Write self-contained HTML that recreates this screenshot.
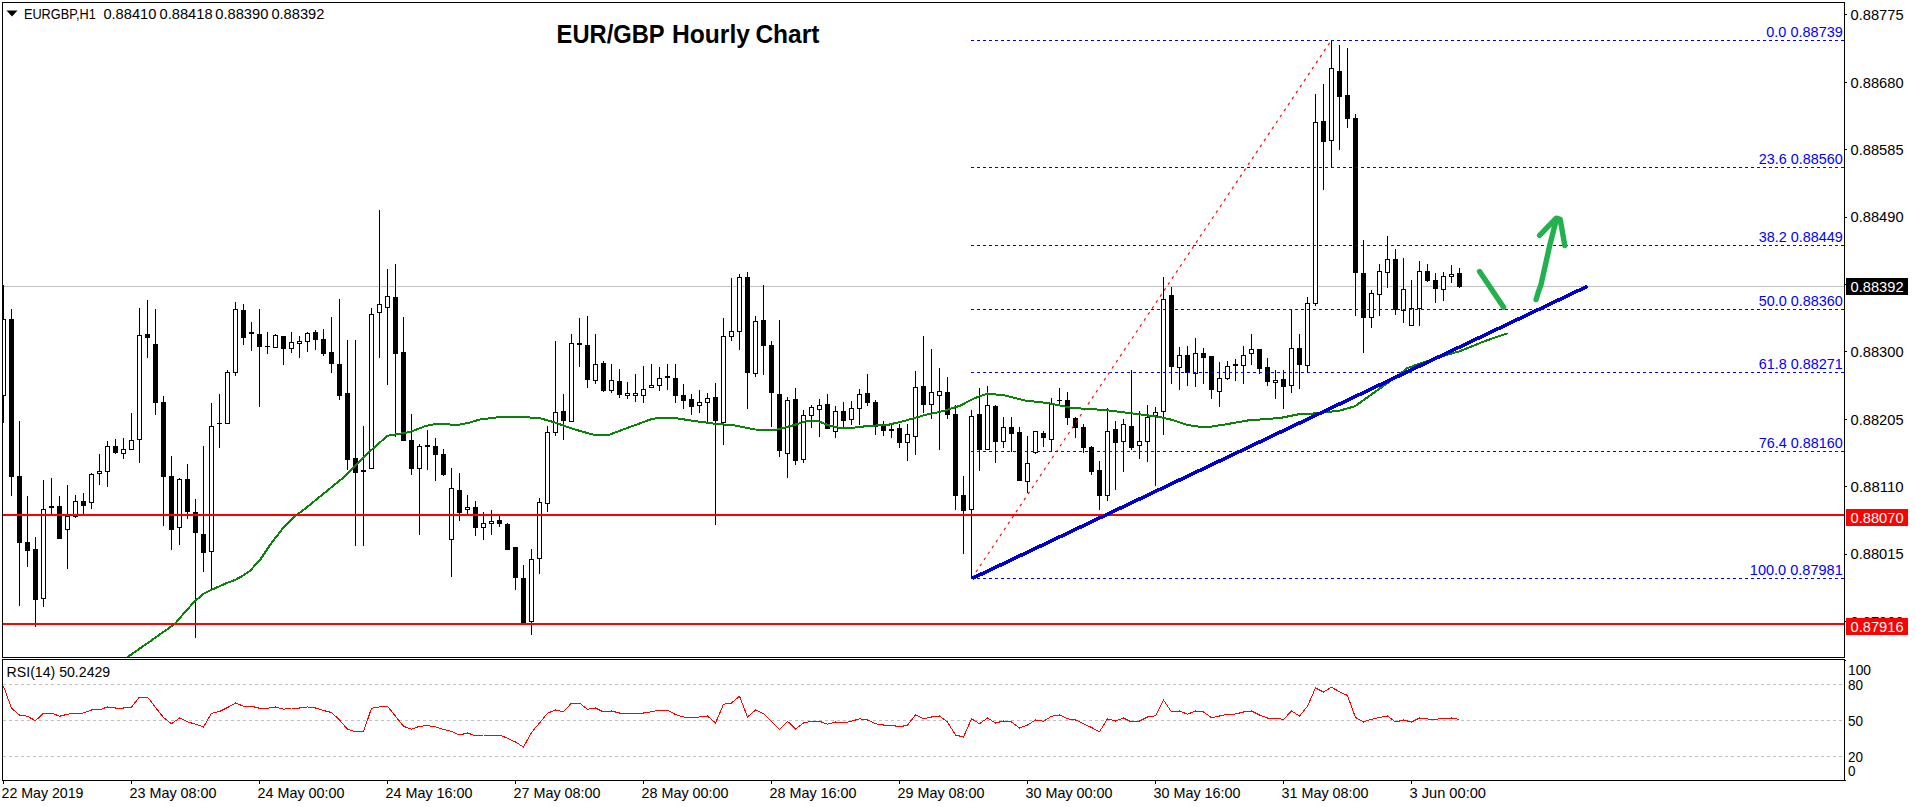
<!DOCTYPE html>
<html><head><meta charset="utf-8"><title>EUR/GBP Hourly Chart</title>
<style>
html,body{margin:0;padding:0;background:#fff;}
body{width:1916px;height:807px;overflow:hidden;}
svg{display:block;}
text{font-family:"Liberation Sans",sans-serif;}
.t{font-size:14.2px;fill:#000;}
.b{font-size:14.2px;fill:#0000ff;}
.w{font-size:14.2px;fill:#fff;}
</style></head><body>
<svg width="1916" height="807" viewBox="0 0 1916 807">
<rect width="1916" height="807" fill="#fff"/>
<g shape-rendering="crispEdges">
<rect x="3" y="286" width="1841" height="1" fill="#c0c0c0"/>
<line x1="3" y1="684.5" x2="1844" y2="684.5" stroke="#c0c0c0" stroke-width="1" stroke-dasharray="3,3"/>
<line x1="3" y1="720.5" x2="1844" y2="720.5" stroke="#c0c0c0" stroke-width="1" stroke-dasharray="3,3"/>
<line x1="3" y1="756.5" x2="1844" y2="756.5" stroke="#c0c0c0" stroke-width="1" stroke-dasharray="3,3"/>
</g>
<g shape-rendering="crispEdges" fill="#000">
<rect x="3" y="285" width="1" height="138"/><rect x="3" y="319" width="3" height="77"/><rect x="3" y="320" width="2" height="75" fill="#fff"/>
<rect x="11" y="309" width="1" height="187"/><rect x="9" y="319" width="5" height="158"/>
<rect x="19" y="421" width="1" height="185"/><rect x="17" y="476" width="5" height="67"/>
<rect x="27" y="496" width="1" height="71"/><rect x="25" y="542" width="5" height="9"/>
<rect x="35" y="537" width="1" height="90"/><rect x="33" y="549" width="5" height="51"/>
<rect x="43" y="480" width="1" height="127"/><rect x="41" y="509" width="5" height="90"/><rect x="42" y="510" width="3" height="88" fill="#fff"/>
<rect x="51" y="478" width="1" height="36"/><rect x="49" y="506" width="5" height="2"/>
<rect x="59" y="496" width="1" height="43"/><rect x="57" y="506" width="5" height="33"/>
<rect x="67" y="485" width="1" height="84"/><rect x="65" y="516" width="5" height="14"/><rect x="66" y="517" width="3" height="12" fill="#fff"/>
<rect x="75" y="495" width="1" height="23"/><rect x="73" y="501" width="5" height="16"/><rect x="74" y="502" width="3" height="14" fill="#fff"/>
<rect x="83" y="493" width="1" height="22"/><rect x="81" y="501" width="5" height="5"/>
<rect x="91" y="473" width="1" height="36"/><rect x="89" y="474" width="5" height="29"/><rect x="90" y="475" width="3" height="27" fill="#fff"/>
<rect x="99" y="454" width="1" height="31"/><rect x="97" y="471" width="5" height="3"/><rect x="98" y="472" width="3" height="1" fill="#fff"/>
<rect x="107" y="441" width="1" height="46"/><rect x="105" y="446" width="5" height="26"/><rect x="106" y="447" width="3" height="24" fill="#fff"/>
<rect x="115" y="439" width="1" height="15"/><rect x="113" y="446" width="5" height="7"/>
<rect x="123" y="438" width="1" height="21"/><rect x="121" y="449" width="5" height="5"/><rect x="122" y="450" width="3" height="3" fill="#fff"/>
<rect x="131" y="413" width="1" height="37"/><rect x="129" y="440" width="5" height="10"/><rect x="130" y="441" width="3" height="8" fill="#fff"/>
<rect x="139" y="308" width="1" height="155"/><rect x="137" y="335" width="5" height="105"/><rect x="138" y="336" width="3" height="103" fill="#fff"/>
<rect x="147" y="300" width="1" height="58"/><rect x="145" y="334" width="5" height="4"/>
<rect x="155" y="309" width="1" height="106"/><rect x="153" y="344" width="5" height="59"/>
<rect x="163" y="396" width="1" height="130"/><rect x="161" y="402" width="5" height="75"/>
<rect x="171" y="456" width="1" height="94"/><rect x="169" y="476" width="5" height="54"/>
<rect x="179" y="478" width="1" height="67"/><rect x="177" y="479" width="5" height="49"/><rect x="178" y="480" width="3" height="47" fill="#fff"/>
<rect x="187" y="464" width="1" height="55"/><rect x="185" y="479" width="5" height="33"/>
<rect x="195" y="499" width="1" height="139"/><rect x="193" y="512" width="5" height="21"/>
<rect x="203" y="446" width="1" height="126"/><rect x="201" y="534" width="5" height="19"/>
<rect x="211" y="403" width="1" height="187"/><rect x="209" y="426" width="5" height="126"/><rect x="210" y="427" width="3" height="124" fill="#fff"/>
<rect x="219" y="394" width="1" height="54"/><rect x="217" y="423" width="5" height="1"/>
<rect x="227" y="370" width="1" height="54"/><rect x="225" y="372" width="5" height="52"/><rect x="226" y="373" width="3" height="50" fill="#fff"/>
<rect x="235" y="302" width="1" height="74"/><rect x="233" y="309" width="5" height="64"/><rect x="234" y="310" width="3" height="62" fill="#fff"/>
<rect x="243" y="304" width="1" height="41"/><rect x="241" y="310" width="5" height="28"/>
<rect x="251" y="322" width="1" height="29"/><rect x="249" y="332" width="5" height="2"/>
<rect x="259" y="309" width="1" height="98"/><rect x="257" y="334" width="5" height="13"/>
<rect x="267" y="332" width="1" height="22"/><rect x="265" y="346" width="5" height="1"/>
<rect x="275" y="334" width="1" height="14"/><rect x="273" y="335" width="5" height="13"/><rect x="274" y="336" width="3" height="11" fill="#fff"/>
<rect x="283" y="336" width="1" height="29"/><rect x="281" y="336" width="5" height="13"/>
<rect x="291" y="332" width="1" height="21"/><rect x="289" y="342" width="5" height="7"/><rect x="290" y="343" width="3" height="5" fill="#fff"/>
<rect x="299" y="336" width="1" height="22"/><rect x="297" y="341" width="5" height="3"/><rect x="298" y="342" width="3" height="1" fill="#fff"/>
<rect x="307" y="332" width="1" height="20"/><rect x="305" y="333" width="5" height="9"/><rect x="306" y="334" width="3" height="7" fill="#fff"/>
<rect x="315" y="330" width="1" height="20"/><rect x="313" y="332" width="5" height="8"/>
<rect x="323" y="329" width="1" height="27"/><rect x="321" y="339" width="5" height="15"/>
<rect x="331" y="317" width="1" height="56"/><rect x="329" y="352" width="5" height="12"/>
<rect x="339" y="299" width="1" height="101"/><rect x="337" y="364" width="5" height="32"/>
<rect x="347" y="340" width="1" height="130"/><rect x="345" y="393" width="5" height="67"/>
<rect x="355" y="340" width="1" height="206"/><rect x="353" y="458" width="5" height="15"/>
<rect x="363" y="426" width="1" height="120"/><rect x="361" y="470" width="5" height="2"/>
<rect x="371" y="308" width="1" height="161"/><rect x="369" y="314" width="5" height="155"/><rect x="370" y="315" width="3" height="153" fill="#fff"/>
<rect x="379" y="210" width="1" height="148"/><rect x="377" y="304" width="5" height="9"/><rect x="378" y="305" width="3" height="7" fill="#fff"/>
<rect x="387" y="269" width="1" height="116"/><rect x="385" y="296" width="5" height="12"/><rect x="386" y="297" width="3" height="10" fill="#fff"/>
<rect x="395" y="264" width="1" height="173"/><rect x="393" y="297" width="5" height="57"/>
<rect x="403" y="317" width="1" height="124"/><rect x="401" y="352" width="5" height="89"/>
<rect x="411" y="414" width="1" height="61"/><rect x="409" y="440" width="5" height="29"/>
<rect x="419" y="444" width="1" height="91"/><rect x="417" y="446" width="5" height="23"/><rect x="418" y="447" width="3" height="21" fill="#fff"/>
<rect x="427" y="430" width="1" height="40"/><rect x="425" y="445" width="5" height="2"/>
<rect x="435" y="438" width="1" height="43"/><rect x="433" y="446" width="5" height="9"/>
<rect x="443" y="449" width="1" height="27"/><rect x="441" y="454" width="5" height="21"/>
<rect x="451" y="468" width="1" height="109"/><rect x="449" y="488" width="5" height="52"/><rect x="450" y="489" width="3" height="50" fill="#fff"/>
<rect x="459" y="473" width="1" height="48"/><rect x="457" y="490" width="5" height="23"/>
<rect x="467" y="495" width="1" height="19"/><rect x="465" y="507" width="5" height="3"/><rect x="466" y="508" width="3" height="1" fill="#fff"/>
<rect x="475" y="501" width="1" height="35"/><rect x="473" y="507" width="5" height="21"/>
<rect x="483" y="512" width="1" height="28"/><rect x="481" y="523" width="5" height="5"/><rect x="482" y="524" width="3" height="3" fill="#fff"/>
<rect x="491" y="510" width="1" height="25"/><rect x="489" y="521" width="5" height="3"/><rect x="490" y="522" width="3" height="1" fill="#fff"/>
<rect x="499" y="516" width="1" height="11"/><rect x="497" y="520" width="5" height="4"/>
<rect x="507" y="523" width="1" height="27"/><rect x="505" y="524" width="5" height="26"/>
<rect x="515" y="547" width="1" height="43"/><rect x="513" y="547" width="5" height="31"/>
<rect x="523" y="565" width="1" height="59"/><rect x="521" y="578" width="5" height="46"/>
<rect x="531" y="549" width="1" height="86"/><rect x="529" y="559" width="5" height="63"/><rect x="530" y="560" width="3" height="61" fill="#fff"/>
<rect x="539" y="498" width="1" height="76"/><rect x="537" y="502" width="5" height="57"/><rect x="538" y="503" width="3" height="55" fill="#fff"/>
<rect x="547" y="426" width="1" height="86"/><rect x="545" y="432" width="5" height="72"/><rect x="546" y="433" width="3" height="70" fill="#fff"/>
<rect x="555" y="341" width="1" height="95"/><rect x="553" y="412" width="5" height="21"/><rect x="554" y="413" width="3" height="19" fill="#fff"/>
<rect x="563" y="394" width="1" height="46"/><rect x="561" y="411" width="5" height="10"/>
<rect x="571" y="334" width="1" height="88"/><rect x="569" y="343" width="5" height="79"/><rect x="570" y="344" width="3" height="77" fill="#fff"/>
<rect x="579" y="318" width="1" height="49"/><rect x="577" y="343" width="5" height="2"/>
<rect x="587" y="316" width="1" height="72"/><rect x="585" y="345" width="5" height="35"/>
<rect x="595" y="334" width="1" height="50"/><rect x="593" y="364" width="5" height="17"/><rect x="594" y="365" width="3" height="15" fill="#fff"/>
<rect x="603" y="361" width="1" height="31"/><rect x="601" y="363" width="5" height="28"/>
<rect x="611" y="364" width="1" height="29"/><rect x="609" y="380" width="5" height="11"/><rect x="610" y="381" width="3" height="9" fill="#fff"/>
<rect x="619" y="369" width="1" height="29"/><rect x="617" y="381" width="5" height="14"/>
<rect x="627" y="382" width="1" height="17"/><rect x="625" y="393" width="5" height="3"/><rect x="626" y="394" width="3" height="1" fill="#fff"/>
<rect x="635" y="374" width="1" height="28"/><rect x="633" y="393" width="5" height="3"/><rect x="634" y="394" width="3" height="1" fill="#fff"/>
<rect x="643" y="366" width="1" height="37"/><rect x="641" y="389" width="5" height="7"/><rect x="642" y="390" width="3" height="5" fill="#fff"/>
<rect x="651" y="364" width="1" height="24"/><rect x="649" y="385" width="5" height="3"/><rect x="650" y="386" width="3" height="1" fill="#fff"/>
<rect x="659" y="367" width="1" height="24"/><rect x="657" y="378" width="5" height="8"/><rect x="658" y="379" width="3" height="6" fill="#fff"/>
<rect x="667" y="364" width="1" height="26"/><rect x="665" y="376" width="5" height="2"/>
<rect x="675" y="364" width="1" height="39"/><rect x="673" y="378" width="5" height="18"/>
<rect x="683" y="384" width="1" height="25"/><rect x="681" y="395" width="5" height="6"/>
<rect x="691" y="394" width="1" height="21"/><rect x="689" y="399" width="5" height="8"/>
<rect x="699" y="390" width="1" height="23"/><rect x="697" y="402" width="5" height="4"/><rect x="698" y="403" width="3" height="2" fill="#fff"/>
<rect x="707" y="393" width="1" height="29"/><rect x="705" y="398" width="5" height="5"/><rect x="706" y="399" width="3" height="3" fill="#fff"/>
<rect x="715" y="383" width="1" height="142"/><rect x="713" y="397" width="5" height="24"/>
<rect x="723" y="318" width="1" height="127"/><rect x="721" y="336" width="5" height="87"/><rect x="722" y="337" width="3" height="85" fill="#fff"/>
<rect x="731" y="278" width="1" height="63"/><rect x="729" y="331" width="5" height="6"/><rect x="730" y="332" width="3" height="4" fill="#fff"/>
<rect x="739" y="274" width="1" height="76"/><rect x="737" y="277" width="5" height="55"/><rect x="738" y="278" width="3" height="53" fill="#fff"/>
<rect x="747" y="272" width="1" height="137"/><rect x="745" y="277" width="5" height="96"/>
<rect x="755" y="316" width="1" height="61"/><rect x="753" y="321" width="5" height="53"/><rect x="754" y="322" width="3" height="51" fill="#fff"/>
<rect x="763" y="285" width="1" height="90"/><rect x="761" y="320" width="5" height="26"/>
<rect x="771" y="341" width="1" height="86"/><rect x="769" y="345" width="5" height="48"/>
<rect x="779" y="320" width="1" height="137"/><rect x="777" y="394" width="5" height="57"/>
<rect x="787" y="397" width="1" height="81"/><rect x="785" y="400" width="5" height="54"/><rect x="786" y="401" width="3" height="52" fill="#fff"/>
<rect x="795" y="388" width="1" height="77"/><rect x="793" y="399" width="5" height="62"/>
<rect x="803" y="410" width="1" height="53"/><rect x="801" y="415" width="5" height="45"/><rect x="802" y="416" width="3" height="43" fill="#fff"/>
<rect x="811" y="405" width="1" height="23"/><rect x="809" y="407" width="5" height="9"/><rect x="810" y="408" width="3" height="7" fill="#fff"/>
<rect x="819" y="399" width="1" height="38"/><rect x="817" y="405" width="5" height="5"/><rect x="818" y="406" width="3" height="3" fill="#fff"/>
<rect x="827" y="394" width="1" height="35"/><rect x="825" y="404" width="5" height="25"/>
<rect x="835" y="406" width="1" height="32"/><rect x="833" y="411" width="5" height="21"/><rect x="834" y="412" width="3" height="19" fill="#fff"/>
<rect x="843" y="402" width="1" height="25"/><rect x="841" y="411" width="5" height="10"/>
<rect x="851" y="401" width="1" height="24"/><rect x="849" y="408" width="5" height="12"/><rect x="850" y="409" width="3" height="10" fill="#fff"/>
<rect x="859" y="389" width="1" height="36"/><rect x="857" y="394" width="5" height="15"/><rect x="858" y="395" width="3" height="13" fill="#fff"/>
<rect x="867" y="374" width="1" height="32"/><rect x="865" y="393" width="5" height="10"/>
<rect x="875" y="400" width="1" height="35"/><rect x="873" y="402" width="5" height="25"/>
<rect x="883" y="421" width="1" height="15"/><rect x="881" y="425" width="5" height="6"/>
<rect x="891" y="423" width="1" height="15"/><rect x="889" y="429" width="5" height="2"/>
<rect x="899" y="424" width="1" height="24"/><rect x="897" y="428" width="5" height="15"/>
<rect x="907" y="424" width="1" height="37"/><rect x="905" y="434" width="5" height="9"/><rect x="906" y="435" width="3" height="7" fill="#fff"/>
<rect x="915" y="371" width="1" height="84"/><rect x="913" y="387" width="5" height="50"/><rect x="914" y="388" width="3" height="48" fill="#fff"/>
<rect x="923" y="336" width="1" height="77"/><rect x="921" y="386" width="5" height="19"/>
<rect x="931" y="349" width="1" height="70"/><rect x="929" y="392" width="5" height="13"/><rect x="930" y="393" width="3" height="11" fill="#fff"/>
<rect x="939" y="368" width="1" height="82"/><rect x="937" y="391" width="5" height="5"/><rect x="938" y="392" width="3" height="3" fill="#fff"/>
<rect x="947" y="377" width="1" height="42"/><rect x="945" y="392" width="5" height="23"/>
<rect x="955" y="405" width="1" height="105"/><rect x="953" y="414" width="5" height="82"/>
<rect x="963" y="476" width="1" height="78"/><rect x="961" y="495" width="5" height="16"/>
<rect x="971" y="410" width="1" height="168"/><rect x="969" y="416" width="5" height="94"/><rect x="970" y="417" width="3" height="92" fill="#fff"/>
<rect x="979" y="388" width="1" height="83"/><rect x="977" y="414" width="5" height="36"/>
<rect x="987" y="386" width="1" height="64"/><rect x="985" y="405" width="5" height="45"/><rect x="986" y="406" width="3" height="43" fill="#fff"/>
<rect x="995" y="405" width="1" height="58"/><rect x="993" y="406" width="5" height="36"/>
<rect x="1003" y="417" width="1" height="31"/><rect x="1001" y="427" width="5" height="15"/><rect x="1002" y="428" width="3" height="13" fill="#fff"/>
<rect x="1011" y="417" width="1" height="35"/><rect x="1009" y="427" width="5" height="7"/>
<rect x="1019" y="427" width="1" height="54"/><rect x="1017" y="432" width="5" height="49"/>
<rect x="1027" y="436" width="1" height="57"/><rect x="1025" y="463" width="5" height="19"/><rect x="1026" y="464" width="3" height="17" fill="#fff"/>
<rect x="1035" y="431" width="1" height="23"/><rect x="1033" y="431" width="5" height="22"/><rect x="1034" y="432" width="3" height="20" fill="#fff"/>
<rect x="1043" y="431" width="1" height="16"/><rect x="1041" y="433" width="5" height="5"/>
<rect x="1051" y="398" width="1" height="54"/><rect x="1049" y="403" width="5" height="37"/><rect x="1050" y="404" width="3" height="35" fill="#fff"/>
<rect x="1059" y="388" width="1" height="17"/><rect x="1057" y="400" width="5" height="1"/>
<rect x="1067" y="392" width="1" height="33"/><rect x="1065" y="400" width="5" height="18"/>
<rect x="1075" y="417" width="1" height="21"/><rect x="1073" y="418" width="5" height="10"/>
<rect x="1083" y="424" width="1" height="29"/><rect x="1081" y="427" width="5" height="21"/>
<rect x="1091" y="446" width="1" height="29"/><rect x="1089" y="447" width="5" height="25"/>
<rect x="1099" y="461" width="1" height="49"/><rect x="1097" y="470" width="5" height="26"/>
<rect x="1107" y="408" width="1" height="93"/><rect x="1105" y="431" width="5" height="65"/><rect x="1106" y="432" width="3" height="63" fill="#fff"/>
<rect x="1115" y="421" width="1" height="69"/><rect x="1113" y="429" width="5" height="14"/>
<rect x="1123" y="419" width="1" height="53"/><rect x="1121" y="424" width="5" height="18"/><rect x="1122" y="425" width="3" height="16" fill="#fff"/>
<rect x="1131" y="370" width="1" height="80"/><rect x="1129" y="426" width="5" height="22"/>
<rect x="1139" y="411" width="1" height="48"/><rect x="1137" y="441" width="5" height="5"/><rect x="1138" y="442" width="3" height="3" fill="#fff"/>
<rect x="1147" y="405" width="1" height="57"/><rect x="1145" y="417" width="5" height="25"/><rect x="1146" y="418" width="3" height="23" fill="#fff"/>
<rect x="1155" y="407" width="1" height="79"/><rect x="1153" y="412" width="5" height="4"/><rect x="1154" y="413" width="3" height="2" fill="#fff"/>
<rect x="1163" y="277" width="1" height="158"/><rect x="1161" y="299" width="5" height="113"/><rect x="1162" y="300" width="3" height="111" fill="#fff"/>
<rect x="1171" y="287" width="1" height="97"/><rect x="1169" y="295" width="5" height="72"/>
<rect x="1179" y="347" width="1" height="43"/><rect x="1177" y="355" width="5" height="13"/><rect x="1178" y="356" width="3" height="11" fill="#fff"/>
<rect x="1187" y="346" width="1" height="40"/><rect x="1185" y="355" width="5" height="18"/>
<rect x="1195" y="338" width="1" height="49"/><rect x="1193" y="353" width="5" height="21"/><rect x="1194" y="354" width="3" height="19" fill="#fff"/>
<rect x="1203" y="348" width="1" height="36"/><rect x="1201" y="353" width="5" height="5"/>
<rect x="1211" y="356" width="1" height="43"/><rect x="1209" y="356" width="5" height="34"/>
<rect x="1219" y="362" width="1" height="45"/><rect x="1217" y="378" width="5" height="14"/><rect x="1218" y="379" width="3" height="12" fill="#fff"/>
<rect x="1227" y="361" width="1" height="19"/><rect x="1225" y="366" width="5" height="13"/><rect x="1226" y="367" width="3" height="11" fill="#fff"/>
<rect x="1235" y="359" width="1" height="22"/><rect x="1233" y="364" width="5" height="2"/>
<rect x="1243" y="346" width="1" height="38"/><rect x="1241" y="355" width="5" height="11"/><rect x="1242" y="356" width="3" height="9" fill="#fff"/>
<rect x="1251" y="334" width="1" height="31"/><rect x="1249" y="349" width="5" height="5"/><rect x="1250" y="350" width="3" height="3" fill="#fff"/>
<rect x="1259" y="349" width="1" height="25"/><rect x="1257" y="349" width="5" height="20"/>
<rect x="1267" y="358" width="1" height="28"/><rect x="1265" y="367" width="5" height="15"/>
<rect x="1275" y="370" width="1" height="29"/><rect x="1273" y="380" width="5" height="3"/><rect x="1274" y="381" width="3" height="1" fill="#fff"/>
<rect x="1283" y="370" width="1" height="39"/><rect x="1281" y="379" width="5" height="8"/>
<rect x="1291" y="309" width="1" height="84"/><rect x="1289" y="348" width="5" height="38"/><rect x="1290" y="349" width="3" height="36" fill="#fff"/>
<rect x="1299" y="334" width="1" height="55"/><rect x="1297" y="348" width="5" height="17"/>
<rect x="1307" y="297" width="1" height="76"/><rect x="1305" y="303" width="5" height="63"/><rect x="1306" y="304" width="3" height="61" fill="#fff"/>
<rect x="1315" y="94" width="1" height="212"/><rect x="1313" y="122" width="5" height="182"/><rect x="1314" y="123" width="3" height="180" fill="#fff"/>
<rect x="1323" y="84" width="1" height="106"/><rect x="1321" y="121" width="5" height="21"/>
<rect x="1331" y="40" width="1" height="128"/><rect x="1329" y="68" width="5" height="73"/><rect x="1330" y="69" width="3" height="71" fill="#fff"/>
<rect x="1339" y="45" width="1" height="105"/><rect x="1337" y="71" width="5" height="26"/>
<rect x="1347" y="48" width="1" height="80"/><rect x="1345" y="95" width="5" height="24"/>
<rect x="1355" y="114" width="1" height="202"/><rect x="1353" y="118" width="5" height="155"/>
<rect x="1363" y="240" width="1" height="113"/><rect x="1361" y="273" width="5" height="45"/>
<rect x="1371" y="290" width="1" height="38"/><rect x="1369" y="293" width="5" height="25"/><rect x="1370" y="294" width="3" height="23" fill="#fff"/>
<rect x="1379" y="264" width="1" height="52"/><rect x="1377" y="271" width="5" height="24"/><rect x="1378" y="272" width="3" height="22" fill="#fff"/>
<rect x="1387" y="236" width="1" height="52"/><rect x="1385" y="259" width="5" height="14"/><rect x="1386" y="260" width="3" height="12" fill="#fff"/>
<rect x="1395" y="249" width="1" height="66"/><rect x="1393" y="259" width="5" height="51"/>
<rect x="1403" y="258" width="1" height="65"/><rect x="1401" y="289" width="5" height="22"/><rect x="1402" y="290" width="3" height="20" fill="#fff"/>
<rect x="1411" y="280" width="1" height="46"/><rect x="1409" y="308" width="5" height="18"/><rect x="1410" y="309" width="3" height="16" fill="#fff"/>
<rect x="1419" y="261" width="1" height="65"/><rect x="1417" y="271" width="5" height="38"/><rect x="1418" y="272" width="3" height="36" fill="#fff"/>
<rect x="1427" y="264" width="1" height="18"/><rect x="1425" y="271" width="5" height="10"/>
<rect x="1435" y="273" width="1" height="30"/><rect x="1433" y="280" width="5" height="9"/>
<rect x="1443" y="272" width="1" height="29"/><rect x="1441" y="276" width="5" height="14"/><rect x="1442" y="277" width="3" height="12" fill="#fff"/>
<rect x="1451" y="265" width="1" height="18"/><rect x="1449" y="274" width="5" height="3"/><rect x="1450" y="275" width="3" height="1" fill="#fff"/>
<rect x="1459" y="268" width="1" height="20"/><rect x="1457" y="273" width="5" height="14"/>
</g>
<g shape-rendering="crispEdges">
<line x1="971" y1="40.5" x2="1844" y2="40.5" stroke="#0000ff" stroke-width="1" stroke-dasharray="3,3"/>
<line x1="971" y1="167.5" x2="1844" y2="167.5" stroke="#0000ff" stroke-width="1" stroke-dasharray="3,3"/>
<line x1="971" y1="245.5" x2="1844" y2="245.5" stroke="#0000ff" stroke-width="1" stroke-dasharray="3,3"/>
<line x1="971" y1="309.5" x2="1844" y2="309.5" stroke="#0000ff" stroke-width="1" stroke-dasharray="3,3"/>
<line x1="971" y1="372.5" x2="1844" y2="372.5" stroke="#0000ff" stroke-width="1" stroke-dasharray="3,3"/>
<line x1="971" y1="451.5" x2="1844" y2="451.5" stroke="#0000ff" stroke-width="1" stroke-dasharray="3,3"/>
<line x1="971" y1="578.5" x2="1844" y2="578.5" stroke="#0000ff" stroke-width="1" stroke-dasharray="3,3"/>
</g>
<line x1="972" y1="578" x2="1331.5" y2="40" stroke="#ff0000" stroke-width="1.15" stroke-dasharray="2.8,4.4"/>
<polyline points="126.5,657.8 128.75,656.25 152,640 175,623.75 185,612 195,601 204,593.5 211,590 225,583.75 235,580 244,575 250,570.75 260,560 270,545 282.5,528.75 295,516.25 305,508.75 325,492.5 345,476.25 357.5,463.75 370,451.25 387.5,435.75 402.5,433.25 410,432 425,426.25 435,424 445,423.75 450,424.5 460,424.5 470,422.5 480,419.5 500,417 522.5,417 540,418.25 555,422.5 572.5,428.75 592.5,434.5 610,434.5 630,427 652.5,418.75 665,417.5 675,418 692.5,420.75 715,423.75 735,425.5 755,429.5 775,430 792.5,425.5 807.5,420.75 817.5,420.75 827.5,425 840,428 855,427.5 870,425.75 887.5,425 905,420.75 925,415 942.5,411.25 960,405.75 975,398 987.5,393.5 1005,395.5 1025,400.5 1047.5,403 1072.5,408 1105,410 1135,413.75 1160,417 1172.5,420 1187.5,425 1200,426.75 1210,426.75 1225,424.5 1247.5,420.5 1280,418 1297.5,414.5 1317.5,413.25 1340,410.5 1355,406.25 1372.5,393.75 1390,381.25 1407.5,368 1436,358 1459.75,351.25 1485,341 1507.75,333.25" fill="none" stroke="#0a820a" stroke-width="2" stroke-linejoin="round" shape-rendering="crispEdges"/>
<g shape-rendering="crispEdges">
<rect x="3" y="514" width="1841" height="2" fill="#ff0000"/>
<rect x="3" y="623" width="1841" height="2" fill="#ff0000"/>
</g>
<line x1="972.5" y1="578.3" x2="1587.6" y2="286.2" stroke="#0000cd" stroke-width="3.6" stroke-linecap="butt" shape-rendering="crispEdges"/>
<g fill="none" stroke="#22b14c" stroke-width="5.4" stroke-linecap="round" stroke-linejoin="round">
<path d="M1479.6 271.5 L1503.6 307.2"/>
<path d="M1536.1 299.6 Q1538 292 1540.9 285 L1549.9 244.7 L1556.4 219.5"/>
<path d="M1539.6 235.3 L1556.2 218.2 L1560.2 219.4 L1564.8 245.5" stroke-linecap="round"/>
</g>
<polyline points="3.5,686.25 11.5,708.25 19.5,715 27.5,716.25 35.5,720.75 43.5,713 51.5,713 59.5,716.25 67.5,714.25 75.5,713.25 83.5,713 91.5,710 99.5,709.75 107.5,707 115.5,708 123.5,708 131.5,707 139.5,697 147.5,697 155.5,707.5 163.5,717.5 171.5,723.75 179.5,718 187.5,721.75 195.5,724.25 203.5,727 211.5,713.25 219.5,711.5 227.5,707.5 235.5,703 243.5,706.25 251.5,706.25 259.5,708.25 267.5,708.25 275.5,707 283.5,709.25 291.5,708 299.5,708 307.5,707 315.5,708 323.5,710.5 331.5,712.5 339.5,720 347.5,729.25 355.5,731.75 363.5,731.75 371.5,708.25 379.5,707 387.5,706.25 395.5,716.25 403.5,726.25 411.5,729.25 419.5,726.25 427.5,725.75 435.5,726.75 443.5,729.5 451.5,731.25 459.5,735 467.5,733 475.5,735.75 483.5,735 491.5,735 499.5,735 507.5,738.25 515.5,742 523.5,747 531.5,732.5 539.5,723 547.5,713.25 555.5,710 563.5,711.75 571.5,703 579.5,703 587.5,709.25 595.5,708 603.5,712 611.5,711 619.5,713 627.5,713 635.5,713 643.5,713 651.5,711.75 659.5,710 667.5,710 675.5,714.5 683.5,717 691.5,718 699.5,717 707.5,716 715.5,723 723.5,704.25 731.5,703 739.5,696.25 747.5,717 755.5,710 763.5,713.75 771.5,721.25 779.5,729.25 787.5,721.25 795.5,729 803.5,723 811.5,721.25 819.5,721.25 827.5,724.25 835.5,722 843.5,723 851.5,721.25 859.5,718.75 867.5,720 875.5,723.75 883.5,725 891.5,725 899.5,727 907.5,725 915.5,715 923.5,718.75 931.5,717 939.5,716 947.5,722 955.5,735 963.5,737 971.5,718.75 979.5,723.75 987.5,718 995.5,723 1003.5,721 1011.5,722 1019.5,728 1027.5,725 1035.5,720 1043.5,721.25 1051.5,716.25 1059.5,715 1067.5,718.75 1075.5,720 1083.5,723.75 1091.5,727.5 1099.5,731.75 1107.5,718.75 1115.5,721 1123.5,718 1131.5,722 1139.5,721 1147.5,717 1155.5,715.75 1163.5,700 1171.5,712 1179.5,711 1187.5,714.25 1195.5,711 1203.5,712 1211.5,717.75 1219.5,716 1227.5,714.25 1235.5,714 1243.5,712 1251.5,711 1259.5,715 1267.5,718 1275.5,718 1283.5,719.5 1291.5,711 1299.5,716 1307.5,706.25 1315.5,688 1323.5,692 1331.5,687.25 1339.5,691.75 1347.5,695.5 1355.5,717.5 1363.5,722 1371.5,719.25 1379.5,717.5 1387.5,716 1395.5,722 1403.5,720 1411.5,722 1419.5,718 1427.5,719 1435.5,719.25 1443.5,718.5 1451.5,718 1459.5,719.5" fill="none" stroke="#ff0000" stroke-width="1" shape-rendering="crispEdges"/>
<g shape-rendering="crispEdges" fill="#000">
<rect x="2" y="2" width="1843" height="1"/>
<rect x="2" y="2" width="1" height="656"/>
<rect x="2" y="657" width="1843" height="1"/>
<rect x="1844" y="2" width="1" height="656"/>
<rect x="2" y="659" width="1843" height="1"/>
<rect x="2" y="659" width="1" height="122"/>
<rect x="2" y="780" width="1843" height="1"/>
<rect x="1844" y="659" width="1" height="122"/>
<rect x="1845" y="14" width="2" height="1"/><rect x="1845" y="82" width="2" height="1"/><rect x="1845" y="149" width="2" height="1"/><rect x="1845" y="217" width="2" height="1"/><rect x="1845" y="284" width="2" height="1"/><rect x="1845" y="351" width="2" height="1"/><rect x="1845" y="419" width="2" height="1"/><rect x="1845" y="486" width="2" height="1"/><rect x="1845" y="554" width="2" height="1"/><rect x="1845" y="621" width="2" height="1"/>
<rect x="3" y="781" width="1" height="3"/><rect x="131" y="781" width="1" height="3"/><rect x="259" y="781" width="1" height="3"/><rect x="387" y="781" width="1" height="3"/><rect x="515" y="781" width="1" height="3"/><rect x="643" y="781" width="1" height="3"/><rect x="771" y="781" width="1" height="3"/><rect x="899" y="781" width="1" height="3"/><rect x="1027" y="781" width="1" height="3"/><rect x="1155" y="781" width="1" height="3"/><rect x="1283" y="781" width="1" height="3"/><rect x="1411" y="781" width="1" height="3"/>
<rect x="1845" y="660" width="1" height="1"/><rect x="1845" y="780" width="1" height="1"/></g>
<path d="M6.5 10.5 L17.5 10.5 L12 16.5 Z" fill="#000"/>
<text class="t" x="23.9" y="19.4" textLength="72" lengthAdjust="spacingAndGlyphs">EURGBP,H1</text>
<text class="t" x="103.4" y="19.4" textLength="53" lengthAdjust="spacingAndGlyphs">0.88410</text>
<text class="t" x="159.6" y="19.4" textLength="53" lengthAdjust="spacingAndGlyphs">0.88418</text>
<text class="t" x="215.3" y="19.4" textLength="53" lengthAdjust="spacingAndGlyphs">0.88390</text>
<text class="t" x="271.4" y="19.4" textLength="53" lengthAdjust="spacingAndGlyphs">0.88392</text>
<text x="556.6" y="42.7" textLength="108" lengthAdjust="spacingAndGlyphs" style="font-size:25.2px;font-weight:bold;fill:#000">EUR/GBP</text>
<text x="672.0" y="42.7" textLength="78" lengthAdjust="spacingAndGlyphs" style="font-size:25.2px;font-weight:bold;fill:#000">Hourly</text>
<text x="755.4" y="42.7" textLength="64" lengthAdjust="spacingAndGlyphs" style="font-size:25.2px;font-weight:bold;fill:#000">Chart</text>
<text class="t" x="1850.6" y="20.1" textLength="53" lengthAdjust="spacingAndGlyphs">0.88775</text>
<text class="t" x="1850.6" y="87.5" textLength="53" lengthAdjust="spacingAndGlyphs">0.88680</text>
<text class="t" x="1850.6" y="154.9" textLength="53" lengthAdjust="spacingAndGlyphs">0.88585</text>
<text class="t" x="1850.6" y="222.3" textLength="53" lengthAdjust="spacingAndGlyphs">0.88490</text>
<text class="t" x="1850.6" y="289.7" textLength="53" lengthAdjust="spacingAndGlyphs">0.88395</text>
<text class="t" x="1850.6" y="357.1" textLength="53" lengthAdjust="spacingAndGlyphs">0.88300</text>
<text class="t" x="1850.6" y="424.5" textLength="53" lengthAdjust="spacingAndGlyphs">0.88205</text>
<text class="t" x="1850.6" y="491.9" textLength="53" lengthAdjust="spacingAndGlyphs">0.88110</text>
<text class="t" x="1850.6" y="559.3" textLength="53" lengthAdjust="spacingAndGlyphs">0.88015</text>
<text class="t" x="1850.6" y="626.7" textLength="53" lengthAdjust="spacingAndGlyphs">0.87920</text>
<text class="b" x="1766.3" y="37.0" textLength="76.5" lengthAdjust="spacingAndGlyphs">0.0 0.88739</text>
<text class="b" x="1758.8" y="164.0" textLength="84.0" lengthAdjust="spacingAndGlyphs">23.6 0.88560</text>
<text class="b" x="1758.8" y="242.0" textLength="84.0" lengthAdjust="spacingAndGlyphs">38.2 0.88449</text>
<text class="b" x="1758.8" y="306.0" textLength="84.0" lengthAdjust="spacingAndGlyphs">50.0 0.88360</text>
<text class="b" x="1758.8" y="369.0" textLength="84.0" lengthAdjust="spacingAndGlyphs">61.8 0.88271</text>
<text class="b" x="1758.8" y="448.0" textLength="84.0" lengthAdjust="spacingAndGlyphs">76.4 0.88160</text>
<text class="b" x="1749.8" y="575.0" textLength="93.0" lengthAdjust="spacingAndGlyphs">100.0 0.87981</text>
<rect x="1846" y="278" width="62" height="17" fill="#000" shape-rendering="crispEdges"/>
<text class="w" x="1850.6" y="291.9" textLength="53" lengthAdjust="spacingAndGlyphs">0.88392</text>
<rect x="1846" y="509" width="62" height="17" fill="#ff0000" shape-rendering="crispEdges"/>
<text class="w" x="1850.6" y="522.9" textLength="53" lengthAdjust="spacingAndGlyphs">0.88070</text>
<rect x="1846" y="618" width="62" height="17" fill="#ff0000" shape-rendering="crispEdges"/>
<text class="w" x="1850.6" y="631.9" textLength="53" lengthAdjust="spacingAndGlyphs">0.87916</text>
<text class="t" x="6.6" y="677.2" textLength="103.6" lengthAdjust="spacingAndGlyphs">RSI(14) 50.2429</text>
<text class="t" x="1848" y="675" textLength="23" lengthAdjust="spacingAndGlyphs">100</text>
<text class="t" x="1848" y="690" textLength="15" lengthAdjust="spacingAndGlyphs">80</text>
<text class="t" x="1848" y="725.5" textLength="15" lengthAdjust="spacingAndGlyphs">50</text>
<text class="t" x="1848" y="762" textLength="15" lengthAdjust="spacingAndGlyphs">20</text>
<text class="t" x="1848" y="776" textLength="7.5" lengthAdjust="spacingAndGlyphs">0</text>
<text class="t" x="1.5" y="798.4" textLength="82" lengthAdjust="spacingAndGlyphs">22 May 2019</text>
<text class="t" x="129.5" y="798.4" textLength="87" lengthAdjust="spacingAndGlyphs">23 May 08:00</text>
<text class="t" x="257.5" y="798.4" textLength="87" lengthAdjust="spacingAndGlyphs">24 May 00:00</text>
<text class="t" x="385.5" y="798.4" textLength="87" lengthAdjust="spacingAndGlyphs">24 May 16:00</text>
<text class="t" x="513.5" y="798.4" textLength="87" lengthAdjust="spacingAndGlyphs">27 May 08:00</text>
<text class="t" x="641.5" y="798.4" textLength="87" lengthAdjust="spacingAndGlyphs">28 May 00:00</text>
<text class="t" x="769.5" y="798.4" textLength="87" lengthAdjust="spacingAndGlyphs">28 May 16:00</text>
<text class="t" x="897.5" y="798.4" textLength="87" lengthAdjust="spacingAndGlyphs">29 May 08:00</text>
<text class="t" x="1025.5" y="798.4" textLength="87" lengthAdjust="spacingAndGlyphs">30 May 00:00</text>
<text class="t" x="1153.5" y="798.4" textLength="87" lengthAdjust="spacingAndGlyphs">30 May 16:00</text>
<text class="t" x="1281.5" y="798.4" textLength="87" lengthAdjust="spacingAndGlyphs">31 May 08:00</text>
<text class="t" x="1409.5" y="798.4" textLength="76.5" lengthAdjust="spacingAndGlyphs">3 Jun 00:00</text>
</svg>
</body></html>
